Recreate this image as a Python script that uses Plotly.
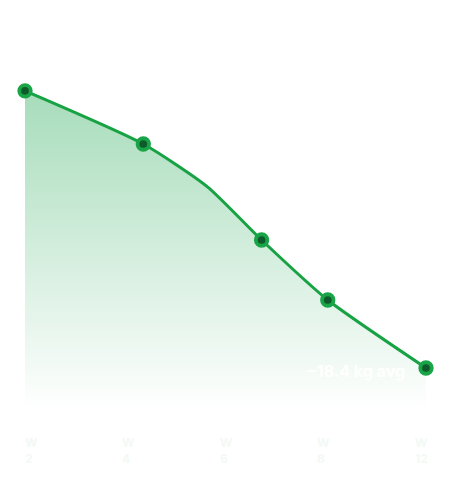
import plotly.graph_objects as go

# Data
x_line = [0, 2.95, 4.55, 5.9, 7.55, 10]
y_line = [79.8, 66.5, 55.8, 42.5, 27.5, 10.5]
x_pts = [0, 2.95, 5.9, 7.55, 10]
y_pts = [79.8, 66.5, 42.5, 27.5, 10.5]
week_labels = ["2", "4", "6", "8", "12"]
avg_label = "\u221218.4 kg avg"

GREEN = "#17a243"
DARK = "#0f5a2a"

fig = go.Figure()
fig.add_trace(go.Scatter(
    x=x_line, y=y_line, mode="lines",
    line=dict(color=GREEN, width=3, shape="spline", smoothing=0.6),
    fill="tozeroy",
    fillgradient=dict(type="vertical", start=0, stop=80,
                      colorscale=[[0, "rgba(22,163,74,0)"], [1, "rgba(22,163,74,0.38)"]]),
    hoverinfo="skip", showlegend=False,
))
fig.add_trace(go.Scatter(
    x=x_pts, y=y_pts, mode="markers",
    marker=dict(size=11.5, color=DARK, line=dict(color="#19a447", width=3.8)),
    hoverinfo="skip", showlegend=False, cliponaxis=False,
))

n = len(week_labels)
for i, lab in enumerate(week_labels):
    fig.add_annotation(
        x=-0.005 + i * (0.9725 / (n - 1)), y=-0.058, xref="paper", yref="paper",
        text="W<br>" + lab, showarrow=False, xanchor="left", yanchor="top", align="left",
        font=dict(family="Inter", size=12, color="#f3f9f4", weight="bold"),
    )

fig.add_annotation(
    x=x_pts[-1], y=y_pts[-1], xref="x", yref="y", text=avg_label, showarrow=False,
    xanchor="right", yanchor="middle", xshift=-19, yshift=-3,
    font=dict(family="Inter", size=16, color="#ffffff", weight="bold"),
)

fig.update_layout(
    width=449, height=483,
    margin=dict(l=17, r=31, t=2, b=81),
    paper_bgcolor="white", plot_bgcolor="white",
    xaxis=dict(range=[0, 10], visible=False, fixedrange=True),
    yaxis=dict(range=[0, 100], visible=False, fixedrange=True),
)

fig.write_html("out.html")
